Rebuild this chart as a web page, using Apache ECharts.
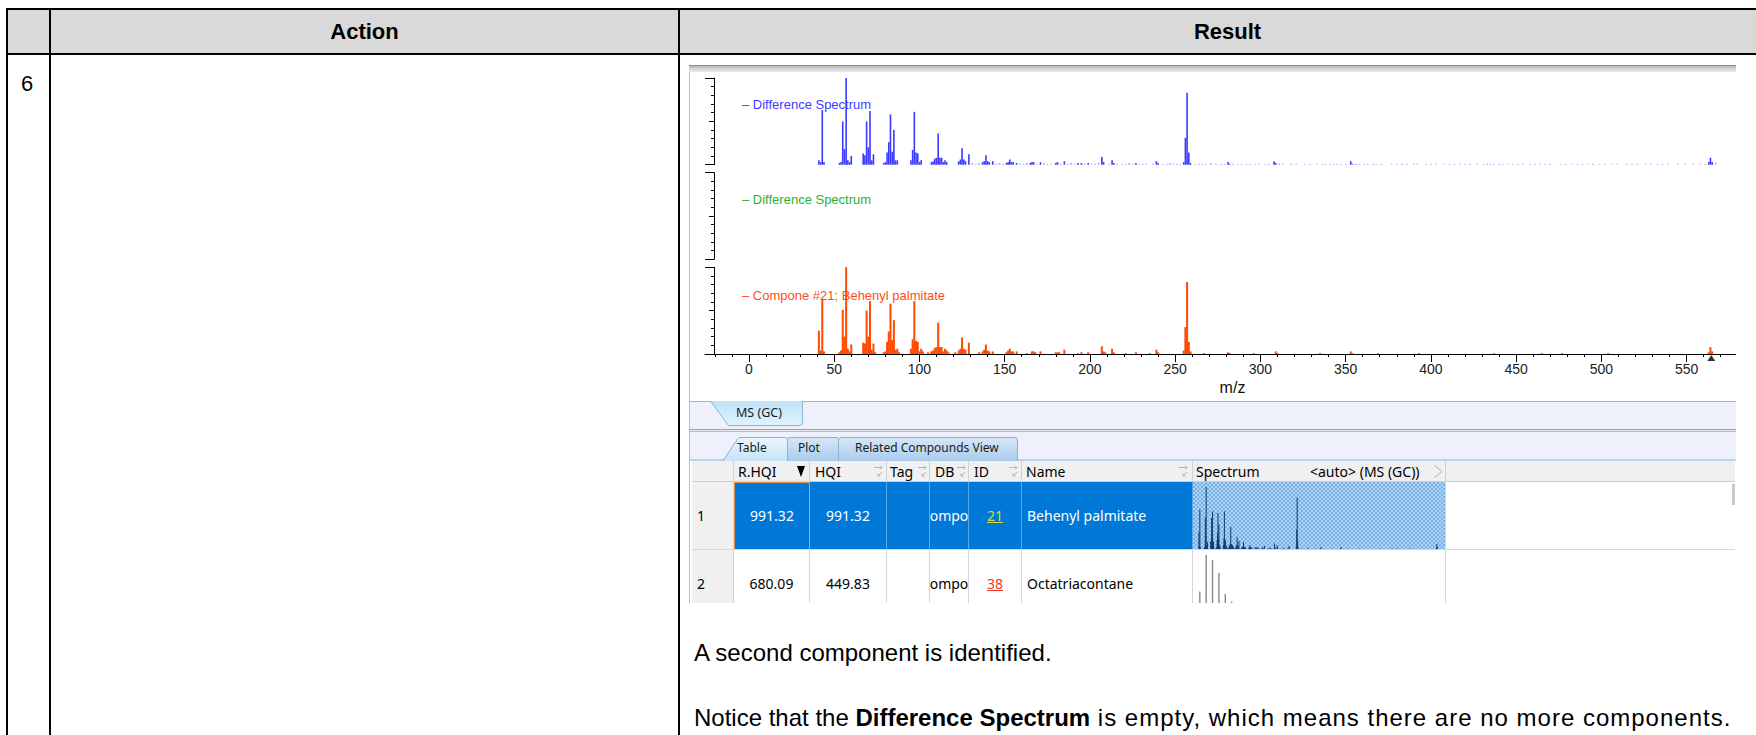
<!DOCTYPE html>
<html>
<head>
<meta charset="utf-8">
<title>MS (GC) – Difference Spectrum</title>
<script src="https://cdn.jsdelivr.net/npm/echarts@6.0.0/dist/echarts.min.js"></script>
<style>
html,body{margin:0;padding:0;background:#fff;}
body{width:1756px;height:735px;position:relative;overflow:hidden;font-family:"Liberation Sans",Arial,sans-serif;}
.a{position:absolute;}
.blk{background:#000;}
.doc{font-family:"Liberation Sans",Arial,sans-serif;color:#000;white-space:nowrap;}
.ui{font-family:"Noto Sans","Open Sans",sans-serif;white-space:nowrap;}
.hd{font-size:14px;line-height:21px;top:461px;height:21px;color:#000;}
.c{position:absolute;box-sizing:border-box;display:flex;overflow:hidden;align-items:flex-start;padding-top:24px;font-family:"Noto Sans","Open Sans",sans-serif;font-size:14px;line-height:20px;white-space:nowrap;}
.cc{justify-content:center;}
.cl{justify-content:flex-start;padding-left:5px;}
.sel{background:#0078d7;color:#fff;border-right:1px solid #5ea4e6;}
.wht{background:#fff;color:#000;border-right:1px solid #d6d6d6;}
.tabt{font-size:12px;color:#1b1b1b;line-height:16px;}
</style>
</head>
<body>
<!-- ================= document table ================= -->
<div class="a" style="left:8px;top:10px;width:1748px;height:43px;background:#d9d9d9"></div>
<div class="a blk" style="left:6px;top:8px;width:1750px;height:2px"></div>
<div class="a blk" style="left:6px;top:53px;width:1750px;height:2px"></div>
<div class="a blk" style="left:6px;top:8px;width:2px;height:727px"></div>
<div class="a blk" style="left:49px;top:8px;width:2px;height:727px"></div>
<div class="a blk" style="left:678px;top:8px;width:2px;height:727px"></div>
<div class="a doc" style="left:51px;width:627px;top:10px;height:43px;line-height:43px;text-align:center;font-weight:bold;font-size:22px">Action</div>
<div class="a doc" style="left:680px;width:1095px;top:10px;height:43px;line-height:43px;text-align:center;font-weight:bold;font-size:22px">Result</div>
<div class="a doc" style="left:21px;top:70px;font-size:22px;line-height:28px">6</div>
<div class="a doc" style="left:694px;top:639px;font-size:24px;line-height:28px">A second component is identified.</div>
<div class="a doc" style="left:694px;top:704px;font-size:24px;line-height:28px">Notice that the <b>Difference Spectrum</b><span style="letter-spacing:1px"> is empty, which means there are no more components.</span></div>

<!-- ================= application screenshot frame ================= -->
<div class="a" style="left:689px;top:65px;width:1px;height:538px;background:#bdbdbd"></div>
<div class="a" style="left:689px;top:65px;width:1047px;height:7px;background:linear-gradient(#8f8f8f 0,#8f8f8f 1px,#b4b4b4 1px,#cfcfcf 3px,#dadada 5px,#eceef6 7px)"></div>
<div class="a" style="left:690px;top:401px;width:1046px;height:1px;background:#b0b0b0"></div>
<div class="a" style="left:690px;top:402px;width:1046px;height:59px;background:#eef0fb"></div>
<div class="a" style="left:690px;top:429px;width:1046px;height:1px;background:#a2a2a2"></div>
<div class="a" style="left:690px;top:430px;width:1046px;height:1px;background:#e6e6e6"></div>
<div class="a" style="left:690px;top:431px;width:1046px;height:1px;background:#bcbcbc"></div>
<div class="a" style="left:690px;top:459px;width:1046px;height:2px;background:#b9d3ec"></div>

<svg class="a" style="left:689px;top:400px" width="1047" height="62">
  <defs>
    <linearGradient id="gms" x1="0" y1="0" x2="0" y2="1"><stop offset="0" stop-color="#bde2f8"/><stop offset="1" stop-color="#e0f3fd"/></linearGradient>
    <linearGradient id="gtb" x1="0" y1="0" x2="0" y2="1"><stop offset="0" stop-color="#eaf6fd"/><stop offset="1" stop-color="#c6e4f7"/></linearGradient>
    <linearGradient id="gtn" x1="0" y1="0" x2="0" y2="1"><stop offset="0" stop-color="#d6e8f7"/><stop offset="1" stop-color="#a9cbeb"/></linearGradient>
  </defs>
  <path d="M21.5,1 L39.5,25.5 L110,25.5 Q113.5,25.5 113.5,22 L113.5,1" fill="url(#gms)" stroke="#8db4d3"/>
  <path d="M149.5,61 L149.5,40 Q149.5,37.5 152,37.5 L326,37.5 Q328.5,37.5 328.5,40 L328.5,61" fill="url(#gtn)" stroke="#8fb1d2"/>
  <path d="M98.5,61 L98.5,40 Q98.5,37.5 101,37.5 L147,37.5 Q149.5,37.5 149.5,40 L149.5,61" fill="url(#gtn)" stroke="#8fb1d2"/>
  <path d="M34,61 L48.5,39 Q49.5,37.5 52,37.5 L96,37.5 Q98.5,37.5 98.5,40 L98.5,61" fill="url(#gtb)" stroke="#8fb1d2"/>
</svg>
<div class="a ui tabt" style="left:736px;top:405px;font-size:12.5px">MS (GC)</div>
<div class="a ui tabt" style="left:737px;top:440px">Table</div>
<div class="a ui tabt" style="left:798px;top:440px">Plot</div>
<div class="a ui tabt" style="left:855px;top:440px">Related Compounds View</div>

<!-- ================= result table ================= -->
<div class="a" style="left:692px;top:461px;width:1043px;height:21px;background:#f0f0f0;border-bottom:1px solid #cfcfcf;box-sizing:border-box"></div>
<div class="a" style="left:733px;top:461px;width:1px;height:21px;background:#d2d2d2"></div>
<div class="a" style="left:809px;top:461px;width:1px;height:21px;background:#d2d2d2"></div>
<div class="a" style="left:886px;top:461px;width:1px;height:21px;background:#d2d2d2"></div>
<div class="a" style="left:929px;top:461px;width:1px;height:21px;background:#d2d2d2"></div>
<div class="a" style="left:968px;top:461px;width:1px;height:21px;background:#d2d2d2"></div>
<div class="a" style="left:1021px;top:461px;width:1px;height:21px;background:#d2d2d2"></div>
<div class="a" style="left:1192px;top:461px;width:1px;height:21px;background:#d2d2d2"></div>
<div class="a" style="left:1445px;top:461px;width:1px;height:21px;background:#d2d2d2"></div>
<div class="a ui hd" style="left:738px">R.HQI</div>
<div class="a ui hd" style="left:815px">HQI</div>
<div class="a ui hd" style="left:890px">Tag</div>
<div class="a ui hd" style="left:935px">DB</div>
<div class="a ui hd" style="left:974px">ID</div>
<div class="a ui hd" style="left:1026px">Name</div>
<div class="a ui hd" style="left:1196px">Spectrum</div>
<div class="a ui hd" style="left:1310px">&lt;auto&gt; (MS (GC))</div>
<svg class="a" style="left:0;top:461px" width="1756" height="21">
  <polygon points="797,5 805,5 801,16" fill="#000"/>
  <g stroke="#b4b4b4" stroke-width="1" fill="none">
    <path d="M874,6.5 H882 M880,4.5 L882,6.5 L880,8.5 M882,11 L878,15 M878,12.5 V15 H880.5"/>
    <path d="M918,6.5 H926 M924,4.5 L926,6.5 L924,8.5 M926,11 L922,15 M922,12.5 V15 H924.5"/>
    <path d="M957,6.5 H965 M963,4.5 L965,6.5 L963,8.5 M965,11 L961,15 M961,12.5 V15 H963.5"/>
    <path d="M1009,6.5 H1017 M1015,4.5 L1017,6.5 L1015,8.5 M1017,11 L1013,15 M1013,12.5 V15 H1015.5"/>
    <path d="M1179,6.5 H1187 M1185,4.5 L1187,6.5 L1185,8.5 M1187,11 L1183,15 M1183,12.5 V15 H1185.5"/>
    <path d="M1434,4 L1442,10.5 L1434,17"/>
  </g>
</svg>
<div class="a" style="left:1732px;top:484px;width:3px;height:21px;background:#c9c9c9"></div>

<!-- row 1 -->
<div class="c cl" style="left:692px;top:482px;width:42px;height:68px;background:#f0f0f0;border-right:1px solid #d2d2d2;border-bottom:1px solid #d2d2d2">1</div>
<div class="c cc" style="left:734px;top:482px;width:76px;height:68px;background:#0078d7;color:#fff;border:1px solid #e39a55;padding-top:23px">991.32</div>
<div class="c cc sel" style="left:810px;top:482px;width:77px;height:68px">991.32</div>
<div class="c cc sel" style="left:887px;top:482px;width:43px;height:68px"></div>
<div class="c cc sel" style="left:930px;top:482px;width:39px;height:68px">ompo</div>
<div class="c cc sel" style="left:969px;top:482px;width:53px;height:68px"><span style="color:#cfe03c;text-decoration:underline">21</span></div>
<div class="c cl sel" style="left:1022px;top:482px;width:171px;height:68px">Behenyl palmitate</div>
<div class="a" style="left:1193px;top:482px;width:253px;height:68px;box-sizing:border-box;border-right:1px solid #d2d2d2;background-color:#8fc0ee;background-image:repeating-conic-gradient(#acd2f4 0 25%,#7ab2e7 0 50%);background-size:4px 4px"></div>
<div id="thumb1" class="a" style="left:1193px;top:482px;width:252px;height:68px"></div>
<div class="a" style="left:692px;top:549px;width:1043px;height:1px;background:#d6d6d6"></div>

<!-- row 2 (cut off by the screenshot edge) -->
<div class="c cl" style="left:692px;top:550px;width:42px;height:53px;background:#f0f0f0;border-right:1px solid #d2d2d2">2</div>
<div class="c cc wht" style="left:734px;top:550px;width:76px;height:53px">680.09</div>
<div class="c cc wht" style="left:810px;top:550px;width:77px;height:53px">449.83</div>
<div class="c cc wht" style="left:887px;top:550px;width:43px;height:53px"></div>
<div class="c cc wht" style="left:930px;top:550px;width:39px;height:53px">ompo</div>
<div class="c cc wht" style="left:969px;top:550px;width:53px;height:53px"><span style="color:#ee3a22;text-decoration:underline">38</span></div>
<div class="c cl wht" style="left:1022px;top:550px;width:171px;height:53px">Octatriacontane</div>
<div class="a" style="left:1193px;top:550px;width:253px;height:53px;overflow:hidden;box-sizing:border-box;border-right:1px solid #d6d6d6">
  <div id="thumb2" style="position:absolute;left:0;top:0;width:252px;height:68px"></div>
</div>

<!-- ================= spectrum chart ================= -->
<div id="ms" class="a" style="left:689px;top:65px;width:1047px;height:336px"></div>

<script>
// ---------------- data (m/z and relative intensity, % of panel) ----------------
const mzTicks = [0, 50, 100, 150, 200, 250, 300, 350, 400, 450, 500, 550];
const mzMinorTicks = [-20, -10, 10, 20, 30, 40, 60, 70, 80, 90, 110, 120, 130, 140, 160, 170, 180, 190,
  210, 220, 230, 240, 260, 270, 280, 290, 310, 320, 330, 340, 360, 370, 380, 390, 410, 420, 430, 440,
  460, 470, 480, 490, 510, 520, 530, 540, 560, 570];

const panelLabels = ['– Difference Spectrum', '– Difference Spectrum', '– Compone #21; Behenyl palmitate'];

// top panel: difference spectrum (blue)
const diffMz = [41, 42, 43, 44, 53, 54, 55, 56, 57, 58, 59, 60, 67, 68, 69, 70, 71, 72, 73, 79, 80, 81, 82, 83, 84, 85, 86, 87,
  95, 96, 97, 98, 99, 100, 101, 107, 108, 109, 110, 111, 112, 113, 114, 115, 116, 123, 124, 125, 126, 127, 129,
  137, 138, 139, 140, 141, 143, 151, 152, 153, 154, 155, 157, 165, 166, 167, 171, 180, 181, 185, 193, 195, 199,
  207, 208, 213, 214, 227, 239, 240, 255, 256, 257, 258, 259, 281, 282, 308, 309, 353, 354, 563, 564, 565];
const diffInt = [5, 3, 63, 3, 2, 3, 50, 18, 100, 5, 3, 10, 13, 11, 50, 20, 62, 5, 12, 2, 3, 14, 26, 58, 15, 40, 5, 5,
  5, 17, 61, 14, 13, 3, 5, 3, 4, 7, 8, 36, 8, 8, 3, 5, 3, 4, 6, 19, 6, 4, 12,
  3, 4, 11, 4, 3, 4, 2, 3, 6, 3, 3, 2, 2, 3, 3, 3, 2, 3, 4, 2, 2, 2,
  9, 3, 5, 2, 2, 4, 2, 3, 31, 83, 14, 2, 3, 1, 4, 2, 4, 1, 3, 8, 3];
// faint low-level peaks of the difference spectrum
const diffNoiseMz = [131, 133, 135, 145, 147, 149, 159, 161, 163, 169, 173, 175, 177, 183, 187, 189, 191, 197,
  201, 203, 205, 211, 216, 219, 221, 223, 225, 229, 231, 233, 237, 243, 245, 247, 249, 251, 253,
  262, 264, 266, 268, 271, 274, 277, 279, 284, 287, 289, 292, 294, 297, 299, 303, 305, 311, 313, 318,
  321, 326, 329, 333, 336, 338, 341, 343, 345, 347, 350, 356, 358, 361, 363, 366, 368, 371, 377,
  380, 383, 386, 390, 392, 397, 400, 403, 408, 411, 414, 417, 420, 423, 427, 431, 433, 435, 437,
  440, 442, 445, 448, 451, 454, 458, 461, 464, 467, 470, 476, 479, 483, 486, 489, 492, 495, 499,
  502, 506, 509, 515, 518, 521, 526, 529, 533, 536, 539, 545, 549, 554, 558, 561, 567];
const diffNoiseInt = [2, 1, 2, 1, 2, 1, 1, 1, 2, 1, 2, 1, 1, 1, 1, 2, 1, 1,
  1, 1, 2, 1, 1, 1, 1, 2, 1, 1, 1, 1, 1, 1, 1, 2, 1, 1, 1,
  1, 1, 1, 1, 2, 1, 1, 1, 1, 1, 1, 1, 1, 1, 1, 1, 1, 1, 1, 1,
  1, 1, 1, 1, 1, 1, 1, 1, 1, 1, 1, 1, 1, 1, 1, 1, 1, 1, 1,
  1, 1, 1, 1, 1, 1, 1, 1, 1, 1, 1, 1, 1, 1, 1, 1, 1, 1, 1,
  1, 1, 1, 1, 1, 1, 1, 1, 1, 1, 1, 1, 1, 1, 1, 1, 1, 1, 1,
  1, 1, 1, 1, 1, 1, 1, 1, 1, 1, 1, 1, 1, 1, 1, 1, 2];

// middle panel: new difference spectrum (empty)
const diff2Mz = [];
const diff2Int = [];

// bottom panel: component #21, Behenyl palmitate (orange)
const compMz = [41, 42, 43, 44, 53, 54, 55, 56, 57, 58, 59, 60, 67, 68, 69, 70, 71, 72, 73, 74, 79, 80, 81, 82, 83, 84, 85, 86, 87, 88,
  95, 96, 97, 98, 99, 100, 101, 102, 105, 107, 108, 109, 110, 111, 112, 113, 114, 115, 116, 117, 121, 123, 124, 125, 126, 127, 129,
  135, 137, 138, 139, 140, 141, 143, 151, 152, 153, 154, 155, 157, 163, 166, 167, 168, 171, 180, 181, 182, 185, 193, 195, 199,
  207, 208, 209, 213, 214, 221, 227, 235, 239, 240, 255, 256, 257, 258, 259, 267, 281, 282, 296, 309, 310, 335, 353, 354,
  369, 393, 437, 465, 477, 504, 563, 564, 565];
const compInt = [27, 4, 64, 3, 2, 4, 51, 20, 100, 6, 3, 11, 13, 12, 50, 20, 61, 5, 12, 2, 2, 3, 14, 26, 58, 16, 39, 5, 6, 2,
  6, 17, 61, 15, 14, 3, 6, 3, 2, 3, 4, 7, 8, 36, 8, 8, 3, 6, 4, 2, 2, 4, 6, 19, 6, 5, 13,
  2, 3, 5, 11, 4, 3, 3, 2, 4, 6, 3, 3, 3, 1, 3, 3, 2, 3, 2, 2, 2, 5, 1, 2, 2,
  9, 3, 2, 6, 2, 1, 2, 1, 5, 2, 4, 31, 83, 14, 3, 1, 2, 1, 1, 3, 1, 1, 3, 1,
  1, 1, 1, 1, 1, 1, 2, 8, 3];

// hit list row 2 thumbnail: Octatriacontane
const octaMz = [43, 57, 71, 85, 99, 113];
const octaInt = [41, 100, 92, 71, 37, 25];

const precursorMz = [564.5];

// ---------------- chart ----------------
const zip = (a, b) => a.map((v, i) => [v, b[i]]);
const FONT = '"Liberation Sans", Arial, sans-serif';
const X_MIN = -25.8, X_MAX = 579;
const PANEL_TOP = [13, 107.6, 202.3], PANEL_H = 86.7;

const ms = echarts.init(document.getElementById('ms'), null, { renderer: 'svg' });

const grids = PANEL_TOP.map(t => ({ left: 16, right: 0, top: t, height: PANEL_H, containLabel: false, outerBoundsMode: 'none' }));

const yAxes = [];
PANEL_TOP.forEach((t, i) => {
  yAxes.push({
    gridIndex: i, type: 'value', min: 0, max: 100, interval: 50, position: 'left', offset: -9,
    axisLine: { show: true, onZero: false, lineStyle: { color: '#000', width: 1 } },
    axisTick: { show: true, length: 5, lineStyle: { color: '#000', width: 1 } },
    minorTick: { show: true, splitNumber: 5, length: 3, lineStyle: { color: '#000', width: 1 } },
    axisLabel: { show: false }, splitLine: { show: false }, minorSplitLine: { show: false }
  });
  yAxes.push({
    gridIndex: i, type: 'value', min: 0, max: 100, interval: 100, position: 'left', offset: -9,
    axisLine: { show: false, onZero: false }, axisTick: { show: true, length: 9, lineStyle: { color: '#000', width: 1 } },
    axisLabel: { show: false }, splitLine: { show: false }
  });
});

const xAxes = [
  { gridIndex: 0, type: 'value', min: X_MIN, max: X_MAX, show: false, axisLine: { onZero: false } },
  { gridIndex: 1, type: 'value', min: X_MIN, max: X_MAX, show: false, axisLine: { onZero: false } },
  {
    gridIndex: 2, type: 'value', min: X_MIN, max: X_MAX, position: 'bottom',
    axisLine: { show: true, onZero: false, lineStyle: { color: '#000', width: 1 } },
    axisTick: { show: true, customValues: mzTicks, length: 8, lineStyle: { color: '#000', width: 1 } },
    axisLabel: { show: true, customValues: mzTicks, margin: 8, fontSize: 14, color: '#222', fontFamily: FONT },
    splitLine: { show: false },
    name: 'm/z', nameLocation: 'middle', nameGap: 25,
    nameTextStyle: { fontSize: 16, color: '#111', fontFamily: FONT, padding: [0, 0, 0, 24] }
  },
  {
    gridIndex: 2, type: 'value', min: X_MIN, max: X_MAX, position: 'bottom',
    axisLine: { show: false, onZero: false },
    axisTick: { show: true, customValues: mzMinorTicks, length: 3, lineStyle: { color: '#000', width: 1 } },
    axisLabel: { show: false }, splitLine: { show: false }
  }
];

const diffData = zip(diffMz, diffInt).concat(
  zip(diffNoiseMz, diffNoiseInt).map(p => ({ value: p, itemStyle: { color: '#a4a4ff' } })));

ms.setOption({
  animation: false,
  grid: grids,
  xAxis: xAxes,
  yAxis: yAxes,
  graphic: [
    { type: 'text', x: 53, y: 39, style: { text: panelLabels[0], fill: '#3c3cff', font: '13px ' + FONT, verticalAlign: 'middle' } },
    { type: 'text', x: 53, y: 134.5, style: { text: panelLabels[1], fill: '#2fb02f', font: '13px ' + FONT, verticalAlign: 'middle' } },
    { type: 'text', x: 53, y: 230, style: { text: panelLabels[2], fill: '#ff4d1a', font: '13px ' + FONT, verticalAlign: 'middle' } }
  ],
  series: [
    { name: 'Difference Spectrum', type: 'bar', xAxisIndex: 0, yAxisIndex: 0, barWidth: 1.6, silent: true,
      itemStyle: { color: '#3a3aff' }, data: diffData },
    { name: 'Difference Spectrum 2', type: 'bar', xAxisIndex: 1, yAxisIndex: 2, barWidth: 1.6, silent: true,
      itemStyle: { color: '#2fb02f' }, data: zip(diff2Mz, diff2Int) },
    { name: 'Compone #21; Behenyl palmitate', type: 'bar', xAxisIndex: 2, yAxisIndex: 4, barWidth: 2, silent: true,
      itemStyle: { color: '#ff4a00' }, data: zip(compMz, compInt) },
    { name: 'precursor', type: 'scatter', xAxisIndex: 2, yAxisIndex: 4, silent: true, clip: false,
      symbol: 'triangle', symbolSize: [8, 6], symbolOffset: [0, 4], itemStyle: { color: '#000' },
      data: precursorMz.map(m => [m, 0]) }
  ]
});

// ---------------- hit-list thumbnails ----------------
function thumb(id, mz, it, color, bw) {
  const c = echarts.init(document.getElementById(id), null, { renderer: 'svg' });
  c.setOption({
    animation: false,
    grid: { left: 0, right: 0, top: 5, bottom: 1, outerBoundsMode: 'none' },
    xAxis: { type: 'value', min: 28, max: 582, show: false },
    yAxis: { type: 'value', min: 0, max: 100, show: false },
    series: [{ type: 'bar', data: zip(mz, it), barWidth: bw, silent: true, itemStyle: { color } }]
  });
}
thumb('thumb1', compMz, compInt, '#0f3b6c', 1);
thumb('thumb2', octaMz, octaInt, '#8a8a8a', 1.4);
</script>
</body>
</html>
